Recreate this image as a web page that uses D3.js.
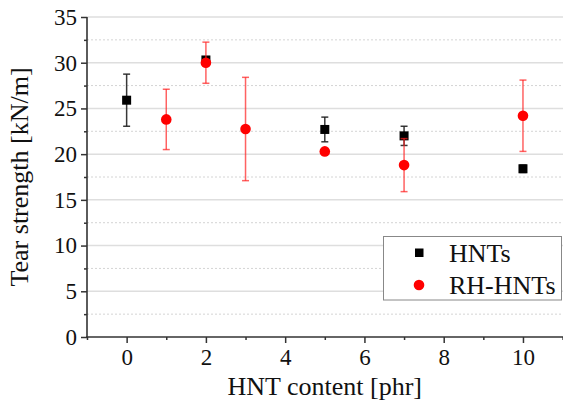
<!DOCTYPE html>
<html>
<head>
<meta charset="utf-8">
<script src="https://cdn.jsdelivr.net/npm/d3@7"></script>
<style>
  html, body { margin: 0; padding: 0; background: #fff; }
  svg { display: block; }
</style>
</head>
<body>
<svg id="chart" width="563" height="405"></svg>
<script>
// HNT content (phr) for each measured compound
const hntX = [0, 2, 5, 7, 10];
const hntY = [25.9, 30.3, 22.7, 22.0, 18.4];
const hntErr = [2.85, 0.3, 1.35, 1.05, 0.4];

const rhX = [1, 2, 3, 5, 7, 10];
const rhY = [23.8, 30.0, 22.75, 20.3, 18.8, 24.2];
const rhErr = [3.3, 2.25, 5.65, 0.3, 2.9, 3.9];

const xTicks = [0, 2, 4, 6, 8, 10];
const xMinorTicks = [-1, 1, 3, 5, 7, 9, 11];
const yTicks = [0, 5, 10, 15, 20, 25, 30, 35];
const yMinorTicks = [2.5, 7.5, 12.5, 17.5, 22.5, 27.5, 32.5];

const seriesNames = ["HNTs", "RH-HNTs"];

// pick the first installed serif face (compared against monospace widths)
function pickSerif() {
  const ctx = document.createElement("canvas").getContext("2d");
  const sample = "Tear strength HNT content 0123456789";
  ctx.font = "40px monospace";
  const base = ctx.measureText(sample).width;
  const candidates = ["Liberation Serif", "Times New Roman", "Tinos", "DejaVu Serif", "Noto Serif", "FreeSerif", "Nimbus Roman"];
  for (const f of candidates) {
    ctx.font = `40px "${f}", monospace`;
    if (Math.abs(ctx.measureText(sample).width - base) > 0.5) return `"${f}", serif`;
  }
  return "serif";
}
const serif = pickSerif();

const svg = d3.select("#chart");
const plotLeft = 87, plotRight = 562.6, plotTop = 17, plotBottom = 337;

const x = d3.scaleLinear().domain([-1, 11]).range([plotLeft, plotRight]);
const y = d3.scaleLinear().domain([0, 35]).range([plotBottom, plotTop]);

// grid: solid major lines, dotted minor lines
const grid = svg.append("g");
grid.selectAll("line.minor").data(yMinorTicks).join("line")
  .attr("class", "minor")
  .attr("x1", plotLeft).attr("x2", 563)
  .attr("y1", d => y(d)).attr("y2", d => y(d))
  .attr("stroke", "#d4d4d4").attr("stroke-width", 1).attr("stroke-dasharray", "2,2");
grid.selectAll("line.major").data(yTicks.filter(d => d > 0)).join("line")
  .attr("class", "major")
  .attr("x1", plotLeft).attr("x2", 563)
  .attr("y1", d => y(d)).attr("y2", d => y(d))
  .attr("stroke", "#dedede").attr("stroke-width", 1.5);

// axes
const axisColor = "#333";
const yAxis = svg.append("g").attr("transform", `translate(${plotLeft},0)`)
  .call(d3.axisLeft(y).tickValues(yTicks).tickSize(6).tickPadding(4).tickFormat(d3.format("d")));
const yMinor = svg.append("g").attr("transform", `translate(${plotLeft},0)`)
  .call(d3.axisLeft(y).tickValues(yMinorTicks).tickSize(3).tickFormat(""));
const xAxis = svg.append("g").attr("transform", `translate(0,${plotBottom})`)
  .call(d3.axisBottom(x).tickValues(xTicks).tickSize(6).tickPadding(5).tickFormat(d3.format("d")));
const xMinor = svg.append("g").attr("transform", `translate(0,${plotBottom})`)
  .call(d3.axisBottom(x).tickValues(xMinorTicks).tickSize(3).tickFormat(""));

[yAxis, yMinor, xAxis, xMinor].forEach(g => {
  g.attr("font-family", serif).attr("font-size", 23);
  g.select(".domain").remove();
  g.selectAll(".tick line").attr("stroke", axisColor).attr("stroke-width", 1.5);
  g.selectAll("text").attr("fill", "#111");
});
xAxis.selectAll("text").attr("dy", "0.72em");

// axis lines
svg.append("line").attr("x1", plotLeft).attr("x2", plotLeft).attr("y1", plotTop).attr("y2", plotBottom + 1)
  .attr("stroke", axisColor).attr("stroke-width", 1.6);
svg.append("line").attr("x1", plotLeft - 1).attr("x2", 563).attr("y1", plotBottom).attr("y2", plotBottom)
  .attr("stroke", axisColor).attr("stroke-width", 1.6);

// axis titles
svg.append("text").attr("x", (plotLeft + plotRight) / 2).attr("y", 395)
  .attr("text-anchor", "middle").attr("font-size", 26).attr("font-family", serif).attr("fill", "#111")
  .text("HNT content [phr]");
svg.append("text").attr("transform", `translate(28,${(plotTop + plotBottom) / 2}) rotate(-90)`)
  .attr("text-anchor", "middle").attr("font-size", 26).attr("font-family", serif).attr("fill", "#111")
  .text("Tear strength [kN/m]");

// error bars
function errorBars(xs, ys, es, color, opacity) {
  const g = svg.append("g").attr("stroke", color).attr("stroke-opacity", opacity).attr("stroke-width", 1.5);
  const cap = 3.5;
  xs.forEach((xv, i) => {
    const cx = x(xv), y1 = y(ys[i] + es[i]), y2 = y(ys[i] - es[i]);
    g.append("line").attr("x1", cx).attr("x2", cx).attr("y1", y1).attr("y2", y2);
    g.append("line").attr("x1", cx - cap).attr("x2", cx + cap).attr("y1", y1).attr("y2", y1);
    g.append("line").attr("x1", cx - cap).attr("x2", cx + cap).attr("y1", y2).attr("y2", y2);
  });
}

errorBars(hntX, hntY, hntErr, "#222", 0.9);
svg.append("g").selectAll("rect").data(hntX).join("rect")
  .attr("x", d => x(d) - 4.5).attr("y", (d, i) => y(hntY[i]) - 4.5)
  .attr("width", 9).attr("height", 9).attr("fill", "#000");

errorBars(rhX, rhY, rhErr, "#ff2020", 0.7);
svg.append("g").selectAll("circle").data(rhX).join("circle")
  .attr("cx", d => x(d)).attr("cy", (d, i) => y(rhY[i])).attr("r", 5.3)
  .attr("fill", "#ff0000");

// legend
const legend = svg.append("g");
legend.append("rect").attr("x", 383.5).attr("y", 236.5).attr("width", 178).attr("height", 63.5)
  .attr("fill", "#fff").attr("stroke", "#888").attr("stroke-width", 1);
legend.append("rect").attr("x", 415).attr("y", 248.5).attr("width", 8.5).attr("height", 8.5).attr("fill", "#000");
legend.append("circle").attr("cx", 419).attr("cy", 285).attr("r", 5.3).attr("fill", "#ff0000");
legend.selectAll("text.entry").data(seriesNames).join("text")
  .attr("class", "entry")
  .attr("x", 449).attr("y", (d, i) => 262 + i * 32)
  .attr("font-size", 26).attr("font-family", serif).attr("fill", "#111").text(d => d);
</script>
</body>
</html>
